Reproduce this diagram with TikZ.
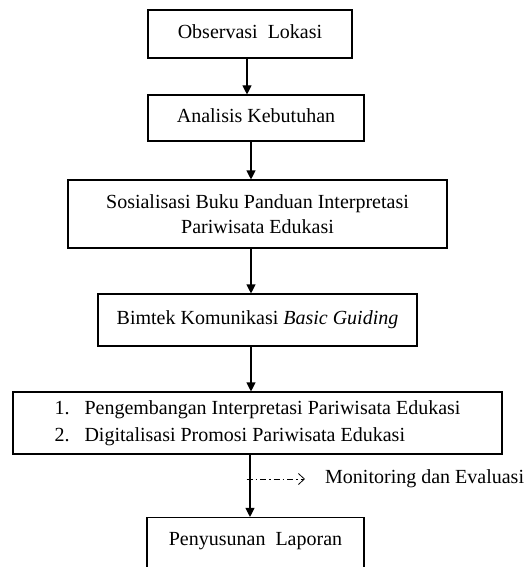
\documentclass[tikz,border=0pt]{standalone}
\usepackage{fontspec}
\setmainfont{Liberation Serif}
\usetikzlibrary{arrows.meta}
\begin{document}
\begin{tikzpicture}[x=1pt,y=-1pt,
  box/.style={draw, line width=1.1pt, inner sep=0pt, font=\fontsize{20}{25}\selectfont},
  one/.style={text height=13.5pt, text depth=4pt},
  arr/.style={line width=1.1pt, -{Triangle[length=9pt,width=9pt]}},
  dd/.style={line width=0.8pt, dash pattern=on 6pt off 3pt on 1.5pt off 3pt, -{Straight Barb[length=6pt,width=11pt]}},
  lbl/.style={inner sep=0pt, font=\fontsize{20}{25}\selectfont, anchor=west},
]
\useasboundingbox (0,0) rectangle (524,567);
\node[box,one,minimum width=204pt,minimum height=48pt] (B1) at (250,34) {Observasi\ \ Lokasi};
\node[box,one,minimum width=216pt,minimum height=46pt] (B2) at (256,118) {Analisis Kebutuhan};
\node[box,align=center,minimum width=379pt,minimum height=68pt] (B3) at (257.5,214) {Sosialisasi Buku Panduan Interpretasi\\Pariwisata Edukasi};
\node[box,one,minimum width=319pt,minimum height=52pt] (B4) at (257.5,320) {Bimtek Komunikasi \textit{Basic Guiding}\hspace{8pt}};
\node[box,minimum width=489pt,minimum height=62pt] (B5) at (257.5,423) {\renewcommand{\arraystretch}{1.08}\begin{tabular}{@{}l@{\hspace{15pt}}l@{}}1. & Pengembangan Interpretasi Pariwisata Edukasi\\2. & Digitalisasi Promosi Pariwisata Edukasi\end{tabular}};
\node[box,text height=13pt,text depth=7pt,minimum width=217pt,minimum height=50pt] (B6) at (255.5,542.5) {Penyusunan\ \ Laporan};
\node[lbl] (Mon) at (325,479) {Monitoring dan Evaluasi};
\coordinate (X1) at (247,0);
\coordinate (X2) at (251,0);
\coordinate (X3) at (250,0);
\coordinate (M) at (246.5,479);
\draw[arr] (B1.south -| X1) -- (B2.north -| X1);
\draw[arr] (B2.south -| X2) -- (B3.north -| X2);
\draw[arr] (B3.south -| X2) -- (B4.north -| X2);
\draw[arr] (B4.south -| X2) -- (B5.north -| X2);
\draw[arr] (B5.south -| X3) -- (B6.north -| X3);
\draw[dd] (M) -- ([xshift=-20pt]Mon.west);
\end{tikzpicture}
\end{document}
